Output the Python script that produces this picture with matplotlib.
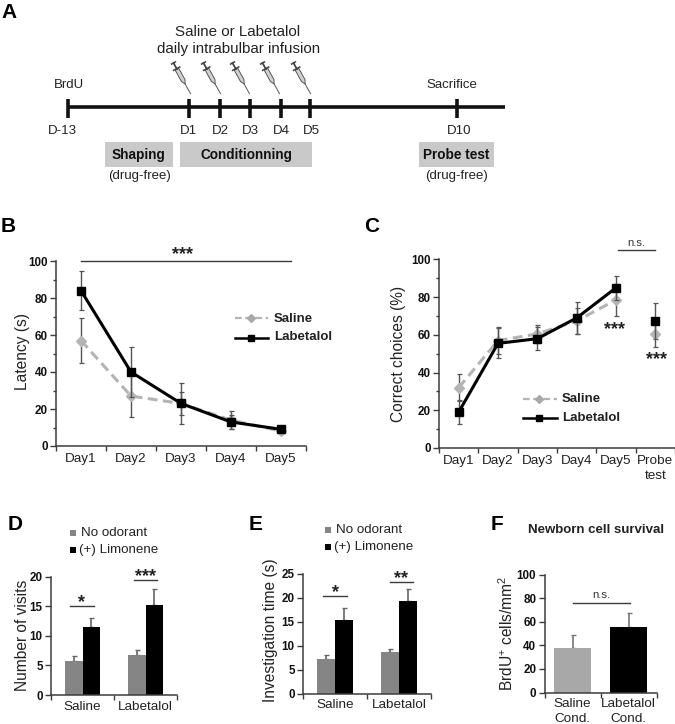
import matplotlib
matplotlib.use('Agg')
import matplotlib.pyplot as plt
from matplotlib.patches import Rectangle, Polygon
import numpy as np

plt.rcParams['font.family'] = ['Liberation Sans', 'DejaVu Sans']
plt.rcParams['mathtext.fontset'] = 'custom'
plt.rcParams['mathtext.rm'] = 'Liberation Sans'
plt.rcParams['mathtext.default'] = 'rm'

W, H = 675, 724
AX_C = '#3c3c3c'
ERR_C = '#555555'
SAL_C = '#b4b4b4'
SAL_M = '#a8a8a8'
TXT = '#222222'

days = ['Day1', 'Day2', 'Day3', 'Day4', 'Day5']
days_probe = ['Day1', 'Day2', 'Day3', 'Day4', 'Day5', 'Probe\ntest']

# Panel B
b_saline = [57, 27, 23, 14, 8]
b_saline_err = [12, 11.5, 6, 5, 1]
b_labet = [84, 40, 23, 13, 9]
b_labet_err = [10.5, 13.5, 11, 4, 1.5]

# Panel C
c_saline = [32, 57, 60.5, 67.5, 78.5, 60.5]
c_saline_err = [7, 7, 5, 7, 8.5, 7]
c_labet = [19, 55.5, 58, 69, 85, 67.5]
c_labet_err = [6.5, 8, 6, 8.5, 6.5, 9.5]

# Panels D, E, F
groups = ['Saline', 'Labetalol']
d_none = [5.8, 6.7]
d_none_err = [0.8, 0.9]
d_lim = [11.5, 15.3]
d_lim_err = [1.6, 2.6]
e_none = [7.2, 8.6]
e_none_err = [0.9, 0.7]
e_lim = [15.3, 19.4]
e_lim_err = [2.5, 2.5]
f_labels = ['Saline\nCond.', 'Labetalol\nCond.']
f_vals = [38, 55.5]
f_err = [10.5, 12]

# Panel A timeline (schematic positions on the overlay, in pixels)
tl_days = ['D-13', 'D1', 'D2', 'D3', 'D4', 'D5', 'D10']
tl_x = [67.5, 189, 220, 249.5, 281, 310, 456.5]
tl_label_x = [62.5, 188, 220, 250, 281, 311, 459]
syringe_x = [191, 221, 250, 280, 311]

fig = plt.figure(figsize=(W / 100, H / 100), dpi=100)
bg = fig.add_axes([0, 0, 1, 1])
bg.set_xlim(0, W)
bg.set_ylim(H, 0)
bg.axis('off')


def make_ax(left, right, top, bottom):
    ax = fig.add_axes([left / W, 1 - bottom / H, (right - left) / W, (bottom - top) / H])
    ax.patch.set_alpha(0)
    for s in ('top', 'right'):
        ax.spines[s].set_visible(False)
    for s in ('left', 'bottom'):
        ax.spines[s].set_color(AX_C)
        ax.spines[s].set_linewidth(1.1)
    ax.tick_params(axis='both', which='both', color=AX_C, width=1, direction='out')
    ax.tick_params(axis='y', which='major', length=4, labelsize=8.4, pad=2)
    ax.tick_params(axis='y', which='minor', length=2)
    return ax


def set_cats(ax, labels, fs=9.7, pad=5):
    n = len(labels)
    ax.set_xlim(0.5, n + 0.5)
    ax.set_xticks(np.arange(0.5, n + 1))
    ax.set_xticklabels([])
    ax.set_xticks(np.arange(1, n + 1), minor=True)
    ax.set_xticklabels(labels, minor=True, fontsize=fs, color=TXT)
    ax.tick_params(axis='x', which='major', length=3.5)
    ax.tick_params(axis='x', which='minor', length=0, pad=pad)
    for t in ax.get_yticklabels():
        t.set_fontweight('bold')
        t.set_color('#111111')


def ylabel_at(ax, text, x, y, fs=11.2):
    ax.set_ylabel(text, fontsize=fs, color=TXT, va='center', ha='center')
    ax.yaxis.set_label_coords(x, y, transform=bg.transData)


def panel_label(s, x, y):
    bg.text(x, y, s, fontsize=15, fontweight='bold', ha='left', va='center', color='black')


def draw_syringe(cx):
    ang = np.deg2rad(61)
    u = np.array([np.cos(ang), np.sin(ang)])
    v = np.array([-u[1], u[0]])
    o = np.array([cx - 17.5, 63.0])

    def P(a, b):
        return o + a * u + b * v

    bg.plot(*zip(P(24, 0), P(35, 0)), color='#555555', lw=0.7)
    bg.add_patch(Polygon([P(7, -2), P(20, -2), P(24, 0), P(20, 2), P(7, 2)],
                         closed=True, fc='#d2d2d2', ec='#555555', lw=0.7))
    bg.plot(*zip(P(0, 0), P(7, 0)), color='#444444', lw=1.3)
    bg.plot(*zip(P(6.5, -3.5), P(6.5, 3.5)), color='#444444', lw=1.1)
    bg.plot(*zip(P(0, -2.2), P(0, 2.2)), color='#444444', lw=1.1)


# ---------- Panel A ----------
panel_label('A', 1, 12)
bg.plot([67.5, 505], [107, 107], color='#111111', lw=2.6, solid_capstyle='butt')
for x in tl_x:
    bg.plot([x, x], [98.5, 118], color='#111111', lw=2.6, solid_capstyle='butt')
for s, x in zip(tl_days, tl_label_x):
    bg.text(x, 131.5, s, ha='center', va='center', fontsize=9.5, color=TXT)
bg.text(68.5, 84.5, 'BrdU', ha='center', va='center', fontsize=9.5, color=TXT)
bg.text(452, 84.5, 'Sacrifice', ha='center', va='center', fontsize=9.5, color=TXT)
bg.text(238, 31.5, 'Saline or Labetalol', ha='center', va='center', fontsize=10.9, color=TXT)
bg.text(238.5, 48.5, 'daily intrabulbar infusion', ha='center', va='center', fontsize=10.9, color=TXT)
for x in syringe_x:
    draw_syringe(x)
for (x0, x1, s, sub) in [(104.5, 172.5, 'Shaping', '(drug-free)'),
                         (180, 312, 'Conditionning', None),
                         (418.5, 493.5, 'Probe test', '(drug-free)')]:
    bg.add_patch(Rectangle((x0, 142), x1 - x0, 24.5, fc='#c9c9c9', ec='none'))
    bg.text((x0 + x1) / 2, 155, s, ha='center', va='center', fontsize=9.8, fontweight='bold', color='#111111')
    if sub:
        bg.text((x0 + x1) / 2 + 1, 176, sub, ha='center', va='center', fontsize=9.5, color=TXT)


def line_series(ax, x, y, err, color, mcolor, marker, ms, ls, lw, z):
    ax.errorbar(x, y, yerr=err, fmt='none', ecolor=ERR_C, elinewidth=1, capsize=1.8, capthick=0.9, zorder=z - 1)
    ax.plot(x[:5], y[:5], color=color, lw=lw, ls=ls, zorder=z)
    ax.plot(x, y, ls='none', marker=marker, color=mcolor, ms=ms, mec=mcolor, zorder=z + 0.5)


# ---------- Panel B ----------
panel_label('B', 1, 226)
axb = make_ax(56, 306, 261, 446)
axb.set_ylim(0, 100)
axb.set_yticks(range(0, 101, 20))
axb.set_yticks(range(0, 101, 10), minor=True)
set_cats(axb, days)
xb = np.arange(1, 6)
line_series(axb, xb, b_saline, b_saline_err, SAL_C, SAL_C, 'D', 4.8, (0, (3.2, 1.8)), 2.2, 3)
line_series(axb, xb, b_labet, b_labet_err, 'black', 'black', 's', 6.2, '-', 2.2, 5)
ylabel_at(axb, 'Latency (s)', 23, 352)
axb.plot([1, 5.2], [100, 100], color=AX_C, lw=1, clip_on=False)
bg.text(183, 255, '***', ha='center', va='center', fontsize=13, fontweight='bold', color=TXT)
# legend B
bg.plot([235, 268], [318, 318], color=SAL_C, lw=1.6, ls=(0, (3, 1.6)))
bg.plot([251], [318], marker='D', color=SAL_M, ms=3.6)
bg.plot([235, 268], [338, 338], color='black', lw=1.8)
bg.plot([251], [338], marker='s', color='black', ms=5)
bg.text(274, 318.5, 'Saline', fontsize=9.5, fontweight='bold', va='center', color=TXT)
bg.text(274, 337.5, 'Labetalol', fontsize=9.5, fontweight='bold', va='center', color=TXT)

# ---------- Panel C ----------
panel_label('C', 364, 226)
axc = make_ax(439, 675, 259.5, 448)
axc.set_ylim(0, 100)
axc.set_yticks(range(0, 101, 20))
axc.set_yticks(range(0, 101, 10), minor=True)
set_cats(axc, days_probe)
for t in axc.get_xticklabels(minor=True):
    t.set_linespacing(1.35)
xc = np.arange(1, 7)
line_series(axc, xc, c_saline, c_saline_err, SAL_C, SAL_C, 'D', 4.8, (0, (3.2, 1.8)), 2.2, 3)
line_series(axc, xc, c_labet, c_labet_err, 'black', 'black', 's', 6.2, '-', 2.2, 5)
ylabel_at(axc, 'Correct choices (%)', 399, 353.5)
bg.text(614, 330, '***', ha='center', va='center', fontsize=13, fontweight='bold', color=TXT)
bg.text(656, 360, '***', ha='center', va='center', fontsize=13, fontweight='bold', color=TXT)
bg.plot([618, 655], [250, 250], color=AX_C, lw=1)
bg.text(636.5, 242.5, 'n.s.', ha='center', va='center', fontsize=8.2, color='#333333')
# legend C
bg.plot([523, 557], [399, 399], color=SAL_C, lw=1.6, ls=(0, (3, 1.6)))
bg.plot([539], [399], marker='D', color=SAL_M, ms=3.6)
bg.plot([523, 557], [418, 418], color='black', lw=1.8)
bg.plot([539], [418], marker='s', color='black', ms=5)
bg.text(562, 399, 'Saline', fontsize=9.5, fontweight='bold', va='center', color=TXT)
bg.text(562, 418, 'Labetalol', fontsize=9.5, fontweight='bold', va='center', color=TXT)


def grouped(ax, none, none_err, lim, lim_err, ylim, ystep):
    x = np.arange(1, 3)
    w = 0.28
    ax.bar(x - w / 2, none, w, color='#858585', zorder=2)
    ax.bar(x + w / 2, lim, w, color='black', zorder=2)
    ax.errorbar(x - w / 2, none, yerr=[[0, 0], none_err], fmt='none', ecolor='#666666',
                elinewidth=1.2, capsize=1.8, capthick=1, zorder=1)
    ax.errorbar(x + w / 2, lim, yerr=[[0, 0], lim_err], fmt='none', ecolor='#666666',
                elinewidth=1.2, capsize=1.8, capthick=1, zorder=1)
    ax.set_ylim(0, ylim)
    ax.set_yticks(range(0, ylim + 1, ystep))
    set_cats(ax, groups, pad=4)


def odor_legend(xs, xt, y1, y2):
    bg.add_patch(Rectangle((xs, y1 - 3), 6, 6, fc='#858585', ec='none'))
    bg.add_patch(Rectangle((xs, y2 - 3), 6, 6, fc='black', ec='none'))
    bg.text(xt, y1, 'No odorant', fontsize=9.6, va='center', color=TXT)
    bg.text(xt - 2, y2, '(+) Limonene', fontsize=9.6, va='center', color=TXT)


def sig(x0, x1, y, s, fs=13):
    bg.plot([x0, x1], [y, y], color=AX_C, lw=1)
    bg.text((x0 + x1) / 2, y - 3, s, ha='center', va='center', fontsize=fs,
            fontweight='bold', color=TXT)


# ---------- Panel D ----------
panel_label('D', 8, 525)
axd = make_ax(51, 177, 576.7, 695)
grouped(axd, d_none, d_none_err, d_lim, d_lim_err, 20, 5)
ylabel_at(axd, 'Number of visits', 22.5, 635)
odor_legend(69.5, 81, 533, 550)
sig(70, 94, 606, '*')
sig(134, 157, 580, '***')

# ---------- Panel E ----------
panel_label('E', 249, 525)
axe = make_ax(303, 431, 574, 693.5)
grouped(axe, e_none, e_none_err, e_lim, e_lim_err, 25, 5)
ylabel_at(axe, 'Investigation time (s)', 270.5, 630)
odor_legend(325, 336, 530, 547)
sig(323, 347, 596, '*')
sig(390, 413, 582, '**')

# ---------- Panel F ----------
panel_label('F', 491, 525)
bg.text(596, 530, 'Newborn cell survival', ha='center', va='center', fontsize=9.5,
        fontweight='bold', color=TXT)
axf = make_ax(544.5, 656.5, 574.5, 692.5)
xf = np.arange(1, 3)
axf.bar(xf, f_vals, 0.67, color=['#a8a8a8', 'black'], zorder=2)
axf.errorbar(xf, f_vals, yerr=[[0, 0], f_err], fmt='none', ecolor='#777777',
             elinewidth=1.2, capsize=1.8, capthick=1, zorder=1)
axf.set_ylim(0, 100)
axf.set_yticks(range(0, 101, 20))
set_cats(axf, f_labels, pad=4)
for t in axf.get_xticklabels(minor=True):
    t.set_linespacing(1.35)
ylabel_at(axf, 'BrdU$^{+}$ cells/mm$^{2}$', 507, 633)
bg.plot([573, 630], [603, 603], color=AX_C, lw=1)
bg.text(601.5, 595, 'n.s.', ha='center', va='center', fontsize=8.2, color='#333333')

fig.savefig('out.png', dpi=100, facecolor='white')
